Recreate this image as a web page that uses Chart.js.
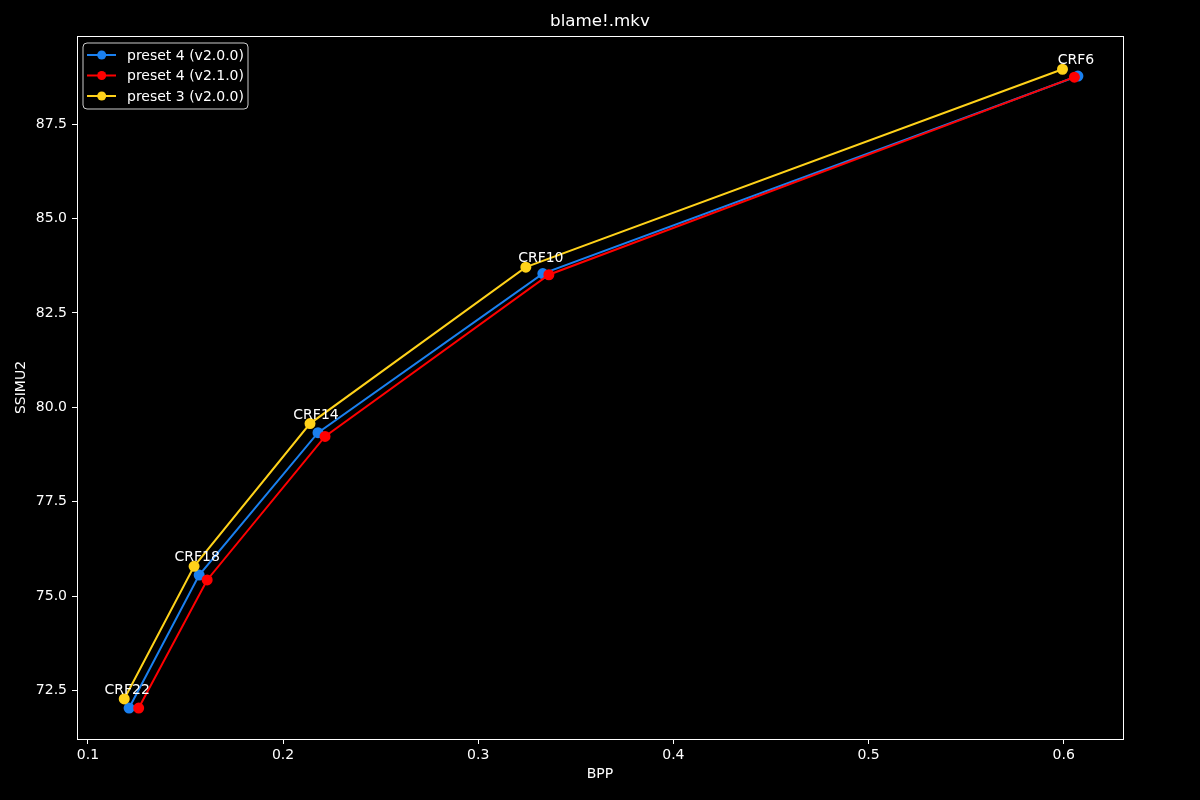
<!DOCTYPE html>
<html><head><meta charset="utf-8">
<script src="https://cdn.jsdelivr.net/npm/chart.js@4/dist/chart.umd.min.js"></script>
<style>html,body{margin:0;padding:0;background:#000;}#wrap{width:1200px;height:800px;}</style>
</head><body><div id="wrap"><canvas id="c" width="1200" height="800"></canvas></div>
<script>
const seriesNames = ['preset 4 (v2.0.0)', 'preset 4 (v2.1.0)', 'preset 3 (v2.0.0)'];
const crfLabels = ['CRF22', 'CRF18', 'CRF14', 'CRF10', 'CRF6'];
const bppP4v200 = [0.1211, 0.1570, 0.2179, 0.3331, 0.6073];
const ssimP4v200 = [72.04, 75.56, 79.33, 83.54, 88.77];
const bppP4v210 = [0.1260, 0.1611, 0.2215, 0.3362, 0.6055];
const ssimP4v210 = [72.04, 75.43, 79.23, 83.51, 88.74];
const bppP3v200 = [0.1186, 0.1544, 0.2138, 0.3244, 0.5994];
const ssimP3v200 = [72.28, 75.79, 79.57, 83.71, 88.95];
const xTicks = [0.1, 0.2, 0.3, 0.4, 0.5, 0.6];
const yTicks = [72.5, 75.0, 77.5, 80.0, 82.5, 85.0, 87.5];

const colors = ['#1a80f0', '#ff0000', '#ffd21a'];
const FONT = 'DejaVu Sans';

function pts(xs, ys) { return xs.map((x, i) => ({x: x, y: ys[i]})); }

const datasets = [
  {label: seriesNames[0], data: pts(bppP4v200, ssimP4v200), order: 3},
  {label: seriesNames[1], data: pts(bppP4v210, ssimP4v210), order: 2},
  {label: seriesNames[2], data: pts(bppP3v200, ssimP3v200), order: 1}
].map((d, i) => Object.assign(d, {
  borderColor: colors[i], backgroundColor: colors[i], pointBackgroundColor: colors[i],
  pointBorderColor: colors[i], borderWidth: 2, pointRadius: 4.5, pointHoverRadius: 4.5,
  showLine: true, fill: false, tension: 0
}));

const deco = {
  id: 'deco',
  afterDatasetsDraw(chart) {
    const ctx = chart.ctx, xs = chart.scales.x, ys = chart.scales.y;
    ctx.save();
    ctx.fillStyle = '#ffffff';
    ctx.font = '14px "' + FONT + '"';
    ctx.textAlign = 'center';
    ctx.textBaseline = 'alphabetic';
    crfLabels.forEach((t, i) => {
      const px = xs.getPixelForValue(bppP4v200[i]) - 2;
      const py = ys.getPixelForValue(ssimP3v200[i]) - 5;
      ctx.fillText(t, px, py);
    });
    ctx.restore();
  },
  afterDraw(chart) {
    const ctx = chart.ctx, a = chart.chartArea;
    ctx.save();
    ctx.strokeStyle = '#ffffff'; ctx.lineWidth = 1;
    ctx.strokeRect(Math.round(a.left) + 0.5, Math.round(a.top) + 0.5, Math.round(a.right - a.left), Math.round(a.bottom - a.top));
    ctx.fillStyle = '#ffffff';
    ctx.textAlign = 'center'; ctx.textBaseline = 'middle';
    ctx.font = '16.7px "' + FONT + '"';
    ctx.fillText('blame!.mkv', (a.left + a.right) / 2, 22);
    ctx.font = '14px "' + FONT + '"';
    ctx.fillText('BPP', (a.left + a.right) / 2, 774);
    ctx.save();
    ctx.translate(21, (a.top + a.bottom) / 2);
    ctx.rotate(-Math.PI / 2);
    ctx.fillText('SSIMU2', 0, 0);
    ctx.restore();
    const lx = 83, ly = 43, lw = 165, lh = 66, r = 4;
    ctx.beginPath();
    ctx.moveTo(lx + r, ly); ctx.lineTo(lx + lw - r, ly); ctx.arcTo(lx + lw, ly, lx + lw, ly + r, r);
    ctx.lineTo(lx + lw, ly + lh - r); ctx.arcTo(lx + lw, ly + lh, lx + lw - r, ly + lh, r);
    ctx.lineTo(lx + r, ly + lh); ctx.arcTo(lx, ly + lh, lx, ly + lh - r, r);
    ctx.lineTo(lx, ly + r); ctx.arcTo(lx, ly, lx + r, ly, r); ctx.closePath();
    ctx.fillStyle = 'rgba(0,0,0,0.8)'; ctx.fill();
    ctx.strokeStyle = '#cccccc'; ctx.lineWidth = 1; ctx.stroke();
    ctx.textAlign = 'left'; ctx.textBaseline = 'middle';
    chart.data.datasets.forEach((d, i) => {
      const y = 55 + i * 20.5;
      ctx.strokeStyle = d.borderColor; ctx.lineWidth = 2;
      ctx.beginPath(); ctx.moveTo(87, y); ctx.lineTo(116, y); ctx.stroke();
      ctx.fillStyle = d.borderColor;
      ctx.beginPath(); ctx.arc(101.7, y, 4.5, 0, Math.PI * 2); ctx.fill();
      ctx.fillStyle = '#ffffff';
      ctx.fillText(d.label, 127, y + 1);
    });
    ctx.restore();
  }
};

new Chart(document.getElementById('c'), {
  type: 'scatter',
  data: {datasets: datasets},
  options: {
    responsive: false, animation: false,
    layout: {padding: {left: 0, right: 77, top: 36, bottom: 0}},
    plugins: {legend: {display: false}, title: {display: false}, tooltip: {enabled: false}},
    scales: {
      x: {
        type: 'linear', min: 0.0944, max: 0.6304,
        afterFit(s) { s.height = 61; },
        afterBuildTicks(s) { s.ticks = xTicks.map(v => ({value: v})); },
        ticks: {color: '#ffffff', font: {family: FONT, size: 14}, padding: 3,
          callback: v => String(v)},
        grid: {display: true, drawOnChartArea: false, drawTicks: true, tickLength: 5, color: '#ffffff'},
        border: {display: true, color: '#ffffff'}
      },
      y: {
        type: 'linear', min: 71.22, max: 89.83,
        afterFit(s) { s.width = 77; },
        afterBuildTicks(s) { s.ticks = yTicks.map(v => ({value: v})); },
        ticks: {color: '#ffffff', font: {family: FONT, size: 14}, padding: 5,
          callback: v => Number(v).toFixed(1)},
        grid: {display: true, drawOnChartArea: false, drawTicks: true, tickLength: 5, color: '#ffffff'},
        border: {display: true, color: '#ffffff'}
      }
    }
  },
  plugins: [deco]
});
</script></body></html>
